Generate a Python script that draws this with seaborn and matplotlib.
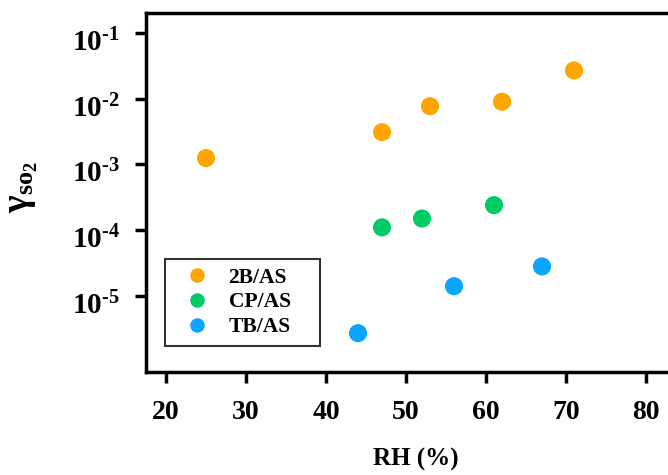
import matplotlib
matplotlib.use("Agg")
import matplotlib.pyplot as plt
import matplotlib.transforms as mtransforms
import seaborn as sns
import pandas as pd

# Data
rh_2b = [25, 47, 53, 62, 71]
gamma_2b = [1.25e-3, 3.1e-3, 7.7e-3, 9.0e-3, 2.7e-2]
rh_cp = [47, 52, 61]
gamma_cp = [1.1e-4, 1.5e-4, 2.4e-4]
rh_tb = [44, 56, 67]
gamma_tb = [2.7e-6, 1.4e-5, 2.8e-5]
series_names = ["2B/AS", "CP/AS", "TB/AS"]
colors = ["#FFA500", "#00CC66", "#0AA5FF"]
x_ticks = [20, 30, 40, 50, 60, 70, 80]
y_ticks = [1e-5, 1e-4, 1e-3, 1e-2, 1e-1]
y_ticklabels = [r"$10^{\text{-5}}$", r"$10^{\text{-4}}$", r"$10^{\text{-3}}$",
                r"$10^{\text{-2}}$", r"$10^{\text{-1}}$"]

df = pd.DataFrame({
    "RH": rh_2b + rh_cp + rh_tb,
    "gamma": gamma_2b + gamma_cp + gamma_tb,
    "series": [series_names[0]] * len(rh_2b) + [series_names[1]] * len(rh_cp) + [series_names[2]] * len(rh_tb),
})

sns.set_theme(style="ticks")
plt.rcParams["font.family"] = ["Liberation Serif", "DejaVu Serif"]
plt.rcParams["font.weight"] = "bold"
plt.rcParams["text.color"] = "black"
plt.rcParams["axes.labelcolor"] = "black"
plt.rcParams["xtick.color"] = "black"
plt.rcParams["ytick.color"] = "black"
plt.rcParams["mathtext.fontset"] = "custom"
plt.rcParams["mathtext.rm"] = "Liberation Serif:bold"
plt.rcParams["mathtext.it"] = "Liberation Serif:bold"
plt.rcParams["mathtext.bf"] = "Liberation Serif:bold"
plt.rcParams["mathtext.default"] = "rm"

fig = plt.figure(figsize=(6.68, 4.75), dpi=100)
ax = fig.add_axes([146 / 668, 1 - 372 / 475, 540 / 668, 359 / 475])

sns.scatterplot(data=df, x="RH", y="gamma", hue="series", hue_order=series_names,
                palette=colors, s=170, linewidth=0, ax=ax, zorder=3)

ax.set_yscale("log")
ax.set_xlim(17.5, 85)
ax.set_ylim(10 ** -6.16, 10 ** -0.695)
ax.set_xticks(x_ticks)
ax.set_xticklabels([str(v) for v in x_ticks], fontsize=20, fontweight="bold")
ax.set_yticks(y_ticks)
ax.set_yticklabels(y_ticklabels, fontsize=21)
ax.minorticks_off()
ax.tick_params(axis="both", direction="out", length=8, width=2.5, colors="black")
ax.tick_params(axis="x", pad=12)
ax.tick_params(axis="y", pad=11)

# shift y tick labels slightly downward like the reference
shift = mtransforms.ScaledTranslation(0, -5 / 72, fig.dpi_scale_trans)
for lab in ax.get_yticklabels():
    lab.set_transform(lab.get_transform() + shift)

for sp in ax.spines.values():
    sp.set_linewidth(2.5)
    sp.set_color("black")

ax.set_xlabel("RH (%)", fontsize=18, fontweight="bold", labelpad=17, color="black")
ax.set_ylabel(r"$\gamma_{\mathrm{so_2}}$", fontsize=27, color="black")
ax.yaxis.set_label_coords(-0.196, 0.515)

leg = ax.legend(loc="upper left", bbox_to_anchor=(19 / 540, 0.0, 155 / 540, 0.315),
                mode="expand", frameon=True,
                fancybox=False, edgecolor="black", fontsize=15.5, markerscale=0.8,
                borderpad=0.4, labelspacing=0.22, handlelength=2.2, handletextpad=0.35,
                borderaxespad=0)
leg.get_frame().set_linewidth(1.5)
for t in leg.get_texts():
    t.set_fontweight("bold")
    t.set_color("black")

fig.savefig("out.png", dpi=100)
